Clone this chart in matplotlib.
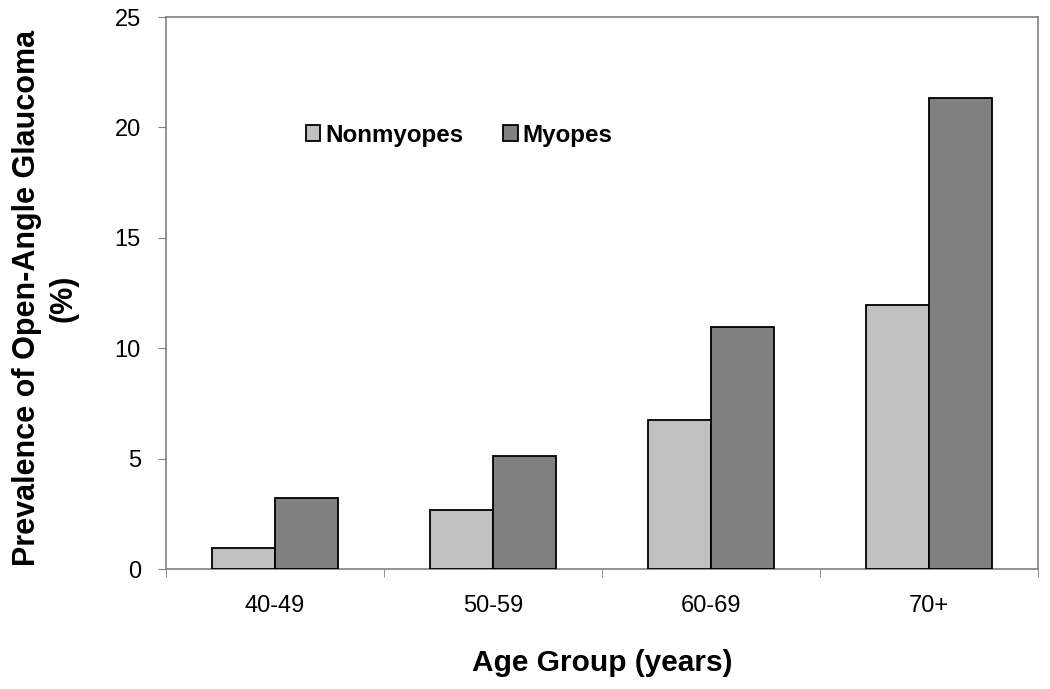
import matplotlib
matplotlib.use("Agg")
import matplotlib.pyplot as plt
import numpy as np

plt.rcParams['font.family'] = ['Liberation Sans', 'DejaVu Sans']

categories = ["40-49", "50-59", "60-69", "70+"]
nonmyopes = [0.95, 2.65, 6.75, 11.95]
myopes = [3.2, 5.1, 10.95, 21.35]
series_names = ["Nonmyopes", "Myopes"]
yticks = [0, 5, 10, 15, 20, 25]

fig = plt.figure(figsize=(10.5, 6.89), dpi=100)
ax = fig.add_axes([166/1050, 1 - 569/689, (1038-166)/1050, (569-17)/689])

x = np.arange(len(categories))
w = 0.287
ax.bar(x - w/2, nonmyopes, w, color="#c0c0c0", edgecolor="black", linewidth=1.3, label=series_names[0], zorder=3)
ax.bar(x + w/2, myopes, w, color="#808080", edgecolor="black", linewidth=1.3, label=series_names[1], zorder=3)

ax.set_xlim(-0.5, len(categories) - 0.5)
ax.set_ylim(0, 25)
ax.set_yticks(yticks)
ax.set_yticklabels([str(t) for t in yticks], fontsize=17)
ax.set_xticks(x)
ax.set_xticklabels(categories, fontsize=17)
ax.tick_params(axis='x', length=0, pad=19)
ax.set_xticks(np.arange(len(categories) + 1) - 0.5, minor=True)
ax.tick_params(axis='x', which='minor', length=6, color="#808080", direction='out')
ax.tick_params(axis='y', length=6, color="#808080", direction='out', pad=12)

for s in ax.spines.values():
    s.set_color("#808080")
    s.set_linewidth(1.2)

ax.set_xlabel("Age Group (years)", fontsize=21.5, fontweight='bold', labelpad=23)
ax.set_ylabel("Prevalence of Open-Angle Glaucoma\n(%)", fontsize=22, fontweight='bold', labelpad=28, linespacing=1.3)
ax.yaxis.set_label_coords(-(166 - 79) / 872, 1 - (298 - 17) / 552)

ax.legend(loc='center left', bbox_to_anchor=((296-166)/872, 1 - (135-17)/552), ncol=2, frameon=False,
          prop={'size': 17.4, 'weight': 'bold'}, handlelength=0.6, handleheight=0.6,
          handletextpad=0.2, columnspacing=1.65, borderaxespad=0)

fig.savefig("out.png", dpi=100)
